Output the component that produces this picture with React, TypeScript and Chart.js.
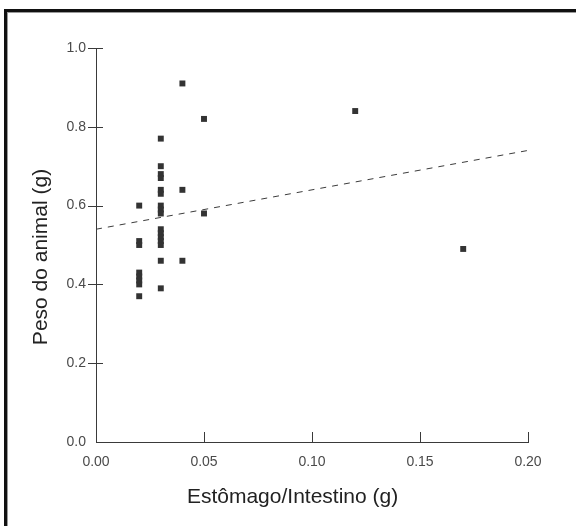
import React, { useEffect, useRef } from "react";
import { Chart, registerables } from "chart.js";

Chart.register(...registerables);

// Estômago/Intestino (g) for each animal
const ratioValues = [
  0.02, 0.02, 0.02, 0.02, 0.02, 0.02, 0.02, 0.02,
  0.03, 0.03, 0.03, 0.03, 0.03, 0.03, 0.03, 0.03, 0.03, 0.03, 0.03, 0.03, 0.03, 0.03, 0.03, 0.03,
  0.04, 0.04, 0.04,
  0.05, 0.05,
  0.12,
  0.17,
];
// Peso do animal (g)
const weightValues = [
  0.60, 0.51, 0.50, 0.43, 0.42, 0.41, 0.40, 0.37,
  0.77, 0.70, 0.68, 0.67, 0.64, 0.63, 0.60, 0.59, 0.58, 0.54, 0.53, 0.52, 0.51, 0.50, 0.46, 0.39,
  0.91, 0.64, 0.46,
  0.82, 0.58,
  0.84,
  0.49,
];
// Regression line end points
const trendX = [0, 0.2];
const trendY = [0.54, 0.74];

const xTicks = [0, 0.05, 0.1, 0.15, 0.2];
const yTicks = [0, 0.2, 0.4, 0.6, 0.8, 1.0];

const xTitle = "Estômago/Intestino (g)";
const yTitle = "Peso do animal (g)";

const FONT = "'Liberation Sans', Arial, sans-serif";

export default function App() {
  const ref = useRef<HTMLCanvasElement | null>(null);

  useEffect(() => {
    if (!ref.current) return;

    const framePlugin = {
      id: "frame",
      beforeDraw(chart: any) {
        const ctx = chart.ctx;
        ctx.save();
        ctx.fillStyle = "#ffffff";
        ctx.fillRect(0, 0, chart.width, chart.height);
        ctx.fillStyle = "#111111";
        ctx.fillRect(4, 9, 3, chart.height - 9);
        ctx.fillRect(4, 9, chart.width - 4, 3);
        ctx.fillStyle = "#9a9a9a";
        ctx.fillRect(7, 12, 1, chart.height - 12);
        ctx.fillRect(7, 12, chart.width - 7, 1);
        ctx.restore();
      },
    };

    const tickPlugin = {
      id: "tickMarks",
      afterDraw(chart: any) {
        const ctx = chart.ctx;
        const xs = chart.scales.x;
        const ys = chart.scales.y;
        const ax = xs.left;
        const ay = ys.bottom;
        ctx.save();
        ctx.strokeStyle = "#3a3a3a";
        ctx.lineWidth = 1;
        ctx.beginPath();
        yTicks.forEach((v) => {
          if (v === 0) return;
          const py = Math.round(ys.getPixelForValue(v)) + 0.5;
          ctx.moveTo(ax - 8, py);
          ctx.lineTo(ax + 7, py);
        });
        xTicks.forEach((v) => {
          if (v === 0) return;
          const px = Math.round(xs.getPixelForValue(v)) + 0.5;
          ctx.moveTo(px, ay);
          ctx.lineTo(px, ay - 10);
        });
        ctx.stroke();

        // axis titles
        ctx.fillStyle = "#222222";
        ctx.font = `21px ${FONT}`;
        ctx.textAlign = "center";
        ctx.textBaseline = "middle";
        ctx.fillText(xTitle, xs.left + (xs.right - xs.left) * 0.455, 497);
        ctx.translate(41, (ys.top + ys.bottom) / 2 + 12);
        ctx.rotate(-Math.PI / 2);
        ctx.fillText(yTitle, 0, 0);
        ctx.restore();
      },
    };

    const points = ratioValues.map((x, i) => ({ x, y: weightValues[i] }));
    const trend = trendX.map((x, i) => ({ x, y: trendY[i] }));

    const chart = new Chart(ref.current, {
      type: "scatter",
      data: {
        datasets: [
          {
            type: "line",
            data: trend,
            borderColor: "#3c3c3c",
            borderWidth: 1,
            borderDash: [6, 6],
            pointRadius: 0,
            fill: false,
          } as any,
          {
            data: points,
            pointStyle: "rect",
            pointRadius: 4.2,
            pointBorderWidth: 0,
            backgroundColor: "#333333",
            borderColor: "#333333",
          },
        ],
      },
      options: {
        animation: false,
        responsive: false,
        maintainAspectRatio: false,
        devicePixelRatio: 1,
        layout: { padding: { left: 0, top: 48, right: 48, bottom: 0 } },
        plugins: {
          legend: { display: false },
          tooltip: { enabled: false },
        },
        scales: {
          x: {
            type: "linear",
            min: 0,
            max: 0.2,
            afterBuildTicks(scale: any) {
              scale.ticks = xTicks.map((v) => ({ value: v }));
            },
            afterFit(scale: any) {
              scale.height = 84;
            },
            grid: { display: false, drawTicks: false },
            border: { display: true, color: "#3a3a3a", width: 1 },
            ticks: {
              padding: 12,
              color: "#4a4a4a",
              font: { family: FONT, size: 14 },
              maxRotation: 0,
              callback: (v: any) => Number(v).toFixed(2),
            },
          },
          y: {
            type: "linear",
            min: 0,
            max: 1,
            afterBuildTicks(scale: any) {
              scale.ticks = yTicks.map((v) => ({ value: v }));
            },
            afterFit(scale: any) {
              scale.width = 96;
            },
            grid: { display: false, drawTicks: false },
            border: { display: true, color: "#3a3a3a", width: 1 },
            ticks: {
              padding: 10,
              color: "#4a4a4a",
              font: { family: FONT, size: 14 },
              callback: (v: any) => Number(v).toFixed(1),
            },
          },
        },
      },
      plugins: [framePlugin, tickPlugin],
    });

    return () => chart.destroy();
  }, []);

  return (
    <div style={{ position: "absolute", left: 0, top: 0, width: 576, height: 526 }}>
      <canvas ref={ref} width={576} height={526} style={{ width: 576, height: 526 }} />
    </div>
  );
}
